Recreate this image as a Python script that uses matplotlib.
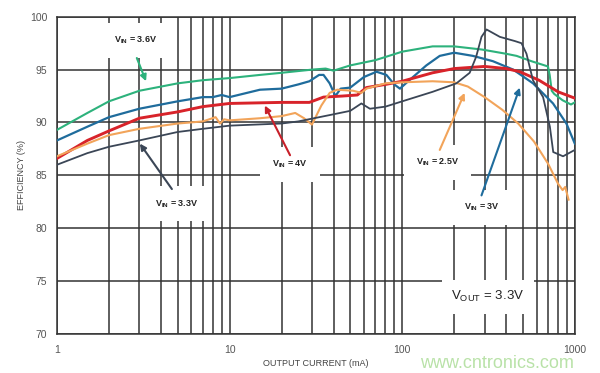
import matplotlib
matplotlib.use('Agg')
import matplotlib.pyplot as plt
from matplotlib.ticker import FixedLocator, NullFormatter

plt.rcParams['font.family'] = ['Liberation Sans', 'DejaVu Sans']
plt.rcParams['mathtext.fontset'] = 'custom'
plt.rcParams['mathtext.rm'] = 'Liberation Sans'
plt.rcParams['mathtext.bf'] = 'Liberation Sans:bold'

# efficiency curves, output current (mA) vs efficiency (%)
green_x = [1, 1.5, 2, 3, 5, 7, 10, 15, 20, 30, 36, 40, 50, 70, 100, 150, 200, 290, 400,
           460, 560, 699, 715, 735, 760, 850, 950, 1000]
green_y = [89.3, 90.9, 92.0, 93.0, 93.7, 94.0, 94.2, 94.5, 94.7, 95.0, 95.1, 94.9, 95.4, 95.9,
           96.7, 97.2, 97.2, 96.9, 96.5, 96.3, 95.8, 95.3, 94.5, 93.0, 92.7, 92.1, 91.7, 91.9]

blue_x = [1, 1.5, 2, 3, 5, 7, 8, 9, 10, 15, 20, 25, 29, 33, 35, 38, 41, 44, 50, 60, 71, 81,
          90, 97, 110, 138, 165, 200, 257, 335, 440, 573, 748, 894, 1000]
blue_y = [88.3, 89.6, 90.5, 91.3, 92.0, 92.4, 92.4, 92.6, 92.4, 93.1, 93.2, 93.6, 93.9, 94.5,
          94.5, 93.7, 92.5, 93.2, 93.3, 94.3, 94.8, 94.5, 93.6, 93.2, 94.0, 95.4, 96.3, 96.6,
          96.3, 95.8, 95.0, 93.7, 91.8, 89.9, 88.0]

red_x = [1, 1.5, 2, 3, 5, 7, 10, 20, 29, 35, 45, 55, 62, 80, 100, 150, 200, 300, 400, 480,
         620, 800, 1000]
red_y = [86.6, 88.3, 89.2, 90.4, 91.0, 91.5, 91.8, 91.9, 91.9, 92.4, 92.5, 92.6, 93.3, 93.6,
         93.9, 94.7, 95.1, 95.3, 95.1, 94.8, 94.0, 92.9, 92.3]

orange_x = [1, 1.5, 2, 3, 5, 7, 8.3, 8.8, 9.3, 10, 15, 20, 24, 27, 30, 34, 38, 42, 52, 58,
            62, 80, 100, 150, 200, 240, 300, 380, 470, 580, 700, 800, 850, 880, 920]
orange_y = [86.8, 88.0, 88.8, 89.4, 89.9, 90.1, 90.5, 89.9, 90.3, 90.2, 90.4, 90.6, 90.9,
            90.4, 89.8, 91.6, 92.8, 93.1, 93.0, 92.8, 93.2, 93.7, 93.8, 93.9, 93.8, 93.4,
            92.4, 91.2, 89.9, 88.2, 86.1, 84.2, 83.6, 83.9, 82.7]

gray_x = [1, 1.5, 2, 3, 5, 7, 10, 20, 25, 38, 50, 58, 65, 80, 100, 150, 206, 246, 268, 288,
          308, 368, 450, 491, 525, 572, 655, 717, 750, 855, 1000]
gray_y = [86.0, 87.1, 87.7, 88.3, 89.1, 89.4, 89.7, 89.9, 90.1, 90.7, 91.1, 91.8, 91.3,
          91.5, 92.0, 92.9, 93.7, 94.7, 96.2, 98.1, 98.8, 98.1, 97.7, 97.5, 96.5, 94.0,
          92.4, 89.6, 87.2, 86.8, 87.4]

x_ticks = [1, 10, 100, 1000]
x_tick_labels = ['1', '10', '100', '1000']
y_ticks = [70, 75, 80, 85, 90, 95, 100]

fig = plt.figure(figsize=(6, 3.73), dpi=100)
ax = fig.add_axes([0.095, 0.105, 0.863, 0.85])

ax.plot(green_x, green_y, color='#2db27c', lw=1.5, zorder=3)
ax.plot(blue_x, blue_y, color='#1f6c9c', lw=1.6, zorder=3)
ax.plot(red_x, red_y, color='#d8232a', lw=2.1, zorder=3)
ax.plot(orange_x, orange_y, color='#f2a45a', lw=1.5, zorder=3)
ax.plot(gray_x, gray_y, color='#3b4656', lw=1.3, zorder=3)

ax.set_xscale('log')
ax.set_xlim(1, 1000)
ax.set_ylim(70, 100)
ax.set_xticks(x_ticks)
ax.set_xticklabels(x_tick_labels)
ax.xaxis.set_minor_locator(FixedLocator([m * d for d in (1, 10, 100) for m in range(2, 10)]))
ax.xaxis.set_minor_formatter(NullFormatter())
ax.set_yticks(y_ticks)
ax.tick_params(which='both', length=0, labelsize=7.5, labelcolor='#555555')
ax.tick_params(axis='x', pad=8)
ax.tick_params(axis='y', pad=7)

ax.set_axisbelow(True)
ax.grid(which='both', color='#333333', lw=1.1)
for s in ax.spines.values():
    s.set_color('#333333')
    s.set_linewidth(1.1)

ax.set_xlabel('OUTPUT CURRENT (mA)', fontsize=6.5, color='#444444', labelpad=3)
ax.set_ylabel('EFFICIENCY (%)', fontsize=6.5, color='#444444', labelpad=3)

box = dict(boxstyle='square,pad=1.3', facecolor='white', edgecolor='none')
txt = dict(fontsize=6.5, fontweight='bold', color='#222222', ha='center', va='center',
           zorder=2, bbox=box)

ax.text(2.87, 97.8, r'V$_{\mathbf{IN}}$ = 3.6V', **txt)
ax.text(4.95, 82.3, r'V$_{\mathbf{IN}}$ = 3.3V', **txt)
ax.text(22.4, 86.0, r'V$_{\mathbf{IN}}$ = 4V', **txt)
ax.text(160, 86.2, r'V$_{\mathbf{IN}}$ = 2.5V', **txt)
ax.text(289, 82.0, r'V$_{\mathbf{IN}}$ = 3V', **txt)
ax.text(313, 73.5, r'V$_{\mathrm{OUT}}$ = 3.3V', fontsize=9.5, color='#222222',
        ha='center', va='center', zorder=2,
        bbox=dict(boxstyle='square,pad=0.7', facecolor='white', edgecolor='none'))

def arrow(tail, tip, color):
    ax.annotate('', xy=tip, xytext=tail, zorder=4,
                arrowprops=dict(arrowstyle='-|>', color=color, lw=1.5,
                                mutation_scale=9, shrinkA=0, shrinkB=0))

arrow((2.9, 96.1), (3.28, 93.9), '#2db27c')
arrow((4.63, 83.7), (3.02, 88.0), '#3b4656')
arrow((22.4, 86.9), (16.0, 91.6), '#c8202a')
arrow((165, 87.4), (230, 92.8), '#f2a45a')
arrow((288, 83.1), (480, 93.3), '#1f6c9c')

fig.text(0.828, 0.026, 'www.cntronics.com', fontsize=13, color='#b9e2a8',
         ha='center', va='center')

fig.savefig('out.png', dpi=100)
